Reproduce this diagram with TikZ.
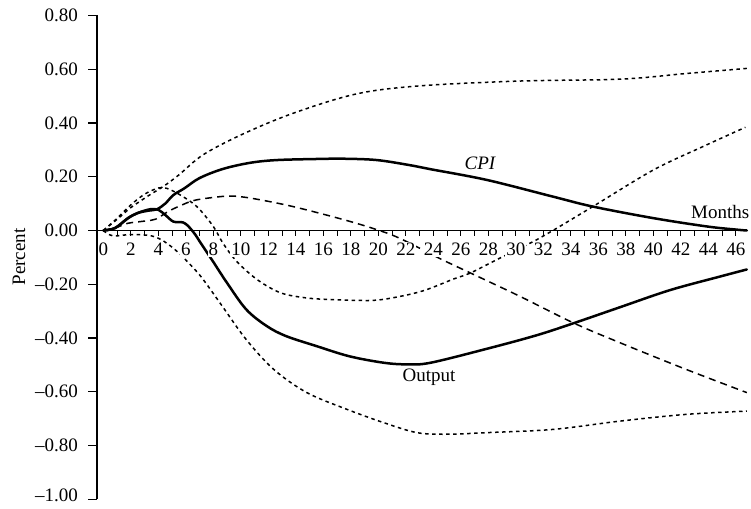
\documentclass[tikz,border=0pt]{standalone}
\usepackage{fontspec}
\setmainfont{Liberation Serif}
\begin{document}
\begin{tikzpicture}[x=1pt,y=1pt,
  lbl/.style={font=\fontsize{19}{21}\selectfont, inner sep=1pt},
  resp/.style={line width=2.5pt, line join=round, line cap=round},
  band/.style={line width=1.5pt, dash pattern=on 3.5pt off 3.5pt},
  bandlong/.style={line width=1.5pt, dash pattern=on 7pt off 5pt},
  axisline/.style={line width=1.3pt},
  tickline/.style={line width=1.1pt},
]
\useasboundingbox (0,0) rectangle (751,508);
\fill[white] (0,0) rectangle (751,508);
\begin{scope}[shift={(103.3pt,277.5pt)}, x=13.75pt, y=268.8pt]
  % bands
  \draw[band] plot[smooth, tension=0.55] coordinates {
    (0,0) (1.2,0.05) (2,0.085) (3.3,0.13) (4.4,0.165) (5.5,0.207) (7.3,0.283)
    (10.2,0.36) (13.8,0.436) (18.4,0.508) (23.0,0.538) (30.3,0.556) (37.6,0.563)
    (42.4,0.584) (46.8,0.603)};
  \draw[band] plot[smooth, tension=0.55] coordinates {
    (0,0) (1,0.045) (2,0.095) (3,0.135) (4,0.158) (4.6,0.157) (5.5,0.135) (6.8,0.089)
    (8,0.015) (8.7,-0.047) (9.7,-0.115) (11.2,-0.183) (12.9,-0.232) (14.8,-0.251)
    (16.7,-0.257) (19.6,-0.26) (21.6,-0.245) (23.4,-0.222) (25.5,-0.18) (26.7,-0.158)
    (28.6,-0.109) (31.5,-0.035) (32.7,0) (35.6,0.089) (40,0.225) (43.6,0.312) (46.7,0.384)};
  \draw[bandlong] plot[smooth, tension=0.55] coordinates {
    (0,0) (1,0.012) (1.8,0.027) (3,0.035) (3.8,0.042) (4.7,0.07) (5.5,0.09) (6.7,0.113)
    (8.7,0.127) (9.5,0.128) (11,0.118) (13.8,0.089) (17.5,0.04) (19.9,0.003) (21.6,-0.03)
    (24.5,-0.105) (26.7,-0.158) (30.3,-0.245) (34.2,-0.344) (37.6,-0.418) (42.4,-0.517)
    (46.8,-0.603)};
  \draw[band] plot[smooth, tension=0.55] coordinates {
    (0,0) (0.7,-0.02) (2,-0.015) (3.5,-0.02) (4.4,-0.04) (5.3,-0.075) (6.1,-0.115)
    (7.0,-0.165) (7.8,-0.22) (8.7,-0.285) (10.4,-0.406) (12.4,-0.517) (14.8,-0.603)
    (17.7,-0.665) (20.4,-0.715) (22.8,-0.752) (25,-0.758) (27.9,-0.752) (32.7,-0.74)
    (37.6,-0.709) (42.4,-0.684) (46.8,-0.672)};
  % responses
  \draw[resp] plot[smooth, tension=0.55] coordinates {
    (0,0) (0.85,0.009) (1.8,0.046) (2.5,0.065) (3.3,0.074) (3.9,0.079) (4.5,0.10)
    (5.1,0.132) (5.9,0.157) (7.0,0.195) (8.7,0.229) (10.7,0.252) (12.6,0.262)
    (15.5,0.266) (17.5,0.267) (19.9,0.262) (22.3,0.243) (23.8,0.228) (27.9,0.188)
    (32.7,0.126) (35.6,0.089) (40,0.046) (43.9,0.015) (46.1,0.003) (46.8,0)};
  \draw[resp] plot[smooth, tension=0.55] coordinates {
    (0,0) (0.85,0.009) (1.8,0.046) (2.5,0.065) (3.4,0.079) (4.0,0.077) (4.5,0.058)
    (5.1,0.033) (5.8,0.03) (6.2,0.015) (6.7,-0.016) (7.0,-0.04) (7.9,-0.109) (9.0,-0.195)
    (10.4,-0.294) (11.9,-0.356) (13.3,-0.393) (15.5,-0.43) (17.9,-0.468) (20.4,-0.492)
    (22.1,-0.498) (23.8,-0.492) (27.9,-0.44) (31.5,-0.39) (34.2,-0.345) (37.6,-0.285)
    (41.2,-0.222) (44.8,-0.172) (46.8,-0.145)};
  % x tick labels
  \foreach \m in {0,2,...,46} {
    \node[lbl, fill=white] (xl\m) at (\m,0) [yshift=-19pt] {\m};
  }
  % axes
  \coordinate (xa0) at (-0.458,0);
  \coordinate (xa1) at (46.9,0);
  \coordinate (ya0) at (-0.458,0.8);
  \coordinate (ya1) at (-0.458,-1.0);
  \draw[axisline] (xa0) -- (xa1);
  \draw[axisline] (ya0) -- (ya1);
  \foreach \m in {1,...,46} {
    \draw[tickline] (\m,0) -- ++(0,-6pt);
  }
  \foreach \v/\t/\dy [count=\i] in {0.8/0.80/0, 0.6/0.60/0, 0.4/0.40/0, 0.2/0.20/0, 0/0.00/0,
      -0.2/--0.20/0, -0.4/--0.40/0, -0.6/--0.60/0, -0.8/--0.80/0, -1.0/--1.00/3.5} {
    \draw[tickline] (-0.458,\v) -- ++(-9pt,0);
    \node[lbl, anchor=east, inner sep=0pt] (yl\i) at (-0.458,\v) [xshift=-19pt, yshift=\dy pt] {\t};
  }
\end{scope}
\node[lbl, rotate=90] (ylab) at (19,251) {Percent};
\node[lbl, anchor=east] (months) at (750.5,296) {Months};
\node[lbl] (cpi) at (480,344.5) {\itshape CPI};
\node[lbl] (output) at (429,131) {Output};
\end{tikzpicture}
\end{document}
